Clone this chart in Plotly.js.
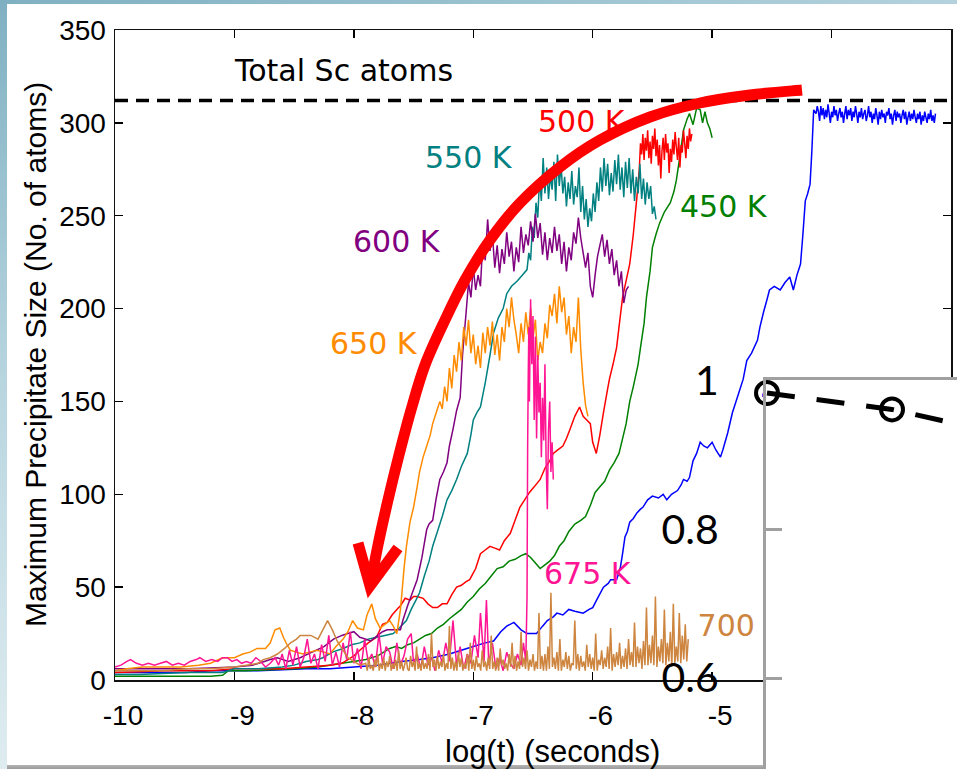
<!DOCTYPE html>
<html><head><meta charset="utf-8">
<script src="https://cdn.plot.ly/plotly-3.0.1.min.js"></script>
<style>
html,body{margin:0;padding:0;width:957px;height:769px;overflow:hidden;}
body{background:linear-gradient(160deg,#7fb0c2 0%,#b9d6e0 35%,#e0edf1 70%,#eef5f7 100%);position:relative;}
#panel{position:absolute;left:7px;top:4px;width:950px;height:761px;background:#fff;}
#shadow{position:absolute;left:7px;top:765px;width:760px;height:4px;background:linear-gradient(#b4b4b4,#9a9a9a);}
#chart{position:absolute;left:0;top:0;width:957px;height:769px;}
</style></head><body>
<div id="panel"></div><div id="shadow"></div><div id="chart"></div>
<script>
// ---------------- data (log10 time in s, max precipitate size in atoms) ----------------
const totalSc = 312;

const t400 = [-10,-9.8,-9.6,-9.4,-9.2,-9.0,-8.8,-8.6,-8.4,-8.2,-8.0,-7.8,-7.6,
 -7.45,-7.34,-7.2,-7.1,-7.0,-6.9,-6.83,-6.77,-6.72,-6.66,
 -6.6,-6.55,-6.47,-6.42,-6.38,-6.33,-6.3,-6.25,-6.2,-6.15,
 -6.08,-6.03,-6.0,-5.96,-5.91,-5.87,-5.85,-5.8,-5.77,-5.75,
 -5.73,-5.71,-5.69,-5.66,-5.63,-5.6,-5.58,-5.54,-5.5,-5.45,
 -5.41,-5.38,-5.34,-5.29,-5.26,-5.24,-5.21,-5.19,-5.16,-5.13,
 -5.1,-5.07,-5.04,-5.0,-4.97,-4.93,-4.91,-4.87,-4.83,-4.79,
 -4.74,-4.71,-4.67,-4.62,-4.6,-4.57,-4.54,-4.52,-4.48,-4.43,
 -4.39,-4.35,-4.32,-4.29,-4.26,-4.24,-4.22,-4.2,-4.18,-4.165,
 -4.15,-4.13,-4.12,
 -4.11,-4.1,-4.09,-4.08,-4.07,-4.06,-4.05,-4.04,-4.03,-4.02,
 -4.01,-4.0,-3.99,-3.98,-3.97,-3.96,-3.95,-3.94,-3.93,-3.92,
 -3.91,-3.9,-3.89,-3.88,-3.87,-3.86,-3.85,-3.84,-3.83,-3.82,
 -3.81,-3.8,-3.79,-3.78,-3.77,-3.76,-3.75,-3.74,-3.73,-3.72,
 -3.71,-3.7,-3.69,-3.68,-3.67,-3.66,-3.65,-3.64,-3.63,-3.62,
 -3.61,-3.6,-3.59,-3.58,-3.57,-3.56,-3.55,-3.54,-3.53,-3.52,
 -3.51,-3.5,-3.49,-3.48,-3.47,-3.46,-3.45,-3.44,-3.43,-3.42,
 -3.41,-3.4,-3.39,-3.38,-3.37,-3.36,-3.35,-3.34,-3.33,-3.32,
 -3.31,-3.3,-3.29,-3.28,-3.27,-3.26,-3.25,-3.24,-3.23,-3.22,
 -3.21,-3.2,-3.19,-3.18,-3.17,-3.16,-3.15,-3.14,-3.13];
const s400 = [4,4,4,4,5,5,5,5.5,6,6,7,8,10,
 11,12,14,16,18,20,21,26,29,31,
 27,25,25,29,32,34,36,35,38,37,
 36,38,39,44,50,52,54,54,60,68,
 77,80,85,87,90,92,93,97,99,98,
 100,97,100,102,105,108,107,109,118,122,
 128,126,125,128,124,120,124,133,144,152,
 162,172,176,183,190,198,205,210,212,210,
 214,217,210,218,224,240,258,262,267,285,
 307,305,309,
 306,301,309,304,308,302,307,303,310,305,
 300,306,303,309,304,307,301,305,308,303,
 306,300,305,309,302,307,304,308,301,306,
 303,309,305,300,306,303,308,302,305,307,
 301,304,309,303,306,300,305,302,308,304,
 299,306,302,307,303,305,300,306,304,308,
 302,305,299,304,307,301,306,303,305,300,
 304,307,302,306,299,303,306,301,305,302,
 307,303,300,305,302,306,299,304,301,306,
 303,300,305,302,307,301,304,300,305];

const t450 = [-10,-9.8,-9.6,-9.4,-9.2,-9.1,-9.05,-8.9,-8.7,-8.5,
 -8.3,-8.1,-8.0,-7.9,-7.8,-7.7,-7.65,-7.6,-7.55,-7.5,
 -7.45,-7.4,-7.35,-7.3,-7.25,-7.2,-7.14,-7.1,-7.05,-7.0,
 -6.95,-6.9,-6.85,-6.8,-6.75,-6.7,-6.65,-6.6,-6.56,-6.52,
 -6.48,-6.44,-6.4,-6.36,-6.32,-6.28,-6.24,-6.2,-6.15,-6.1,
 -6.06,-6.02,-5.98,-5.94,-5.9,-5.86,-5.82,-5.78,-5.75,-5.72,
 -5.69,-5.66,-5.62,-5.6,-5.57,-5.55,-5.52,-5.5,-5.47,-5.44,
 -5.4,-5.35,-5.32,-5.3,-5.27,-5.24,-5.21,-5.19,-5.16,-5.13,
 -5.1,-5.08,-5.06,-5.04,-5.02,-5.0];
const s450 = [2,2,2,2,2,2.5,5,5,5.5,6,
 7,9,10,11,13,17,18,17,19,20,
 22,24,25,28,30,33,36,38,42,45,
 49,52,56,60,61,64,65,67,68,66,
 63,60,62,64,67,72,75,80,84,86,
 88,94,101,104,107,113,117,122,130,138,
 150,158,170,179,192,206,220,233,240,246,
 252,257,263,269,282,296,302,305,299,308,
 307,300,306,300,297,292];

const t500 = [-10,-9.8,-9.6,-9.4,-9.2,-9.0,-8.8,-8.6,-8.4,-8.2,
 -8.1,-8.0,-7.95,-7.88,-7.81,-7.76,-7.72,-7.68,-7.64,-7.61,
 -7.57,-7.53,-7.5,-7.47,-7.42,-7.38,-7.34,-7.3,-7.26,-7.22,
 -7.18,-7.14,-7.1,-7.06,-7.03,-6.98,-6.94,-6.9,-6.86,-6.82,
 -6.78,-6.74,-6.69,-6.65,-6.61,-6.57,-6.53,-6.49,-6.44,-6.4,
 -6.36,-6.33,-6.29,-6.25,-6.22,-6.19,-6.15,-6.11,-6.08,-6.05,
 -6.02,-6.0,-5.97,-5.94,-5.91,-5.88,-5.86,-5.83,-5.8,-5.78,
 -5.75,-5.72,-5.69,-5.66,-5.63,
 -5.61,-5.6,-5.59,-5.58,-5.57,-5.56,-5.55,-5.54,-5.53,-5.52,
 -5.51,-5.5,-5.49,-5.48,-5.47,-5.46,-5.45,-5.44,-5.43,-5.42,
 -5.41,-5.4,-5.39,-5.38,-5.37,-5.36,-5.35,-5.34,-5.33,-5.32,
 -5.31,-5.3,-5.29,-5.28,-5.27,-5.26,-5.25,-5.24,-5.23,-5.22,
 -5.21,-5.2,-5.19,-5.18,-5.17];
const s500 = [4,4.5,5,5,5,6,6,6,7,8,
 9,13,16,20,23,30,31,35,38,40,
 44,43,45,45,44,41,39,39,41,41,
 46,50,51,53,54,60,68,70,72,71,
 70,75,79,86,93,97,101,104,108,114,
 118,122,124,126,130,135,142,147,142,140,
 138,128,122,132,144,155,162,170,179,190,
 206,215,224,240,260,
 275,289,283,294,280,292,285,296,281,290,
 278,293,286,297,282,291,277,288,270,285,
 292,280,294,284,289,273,286,279,291,283,
 295,287,280,292,276,288,284,296,289,281,
 293,286,297,290,294];

const t550 = [-10,-9.8,-9.6,-9.4,-9.2,-9.1,-9.0,-8.8,-8.6,-8.5,
 -8.4,-8.3,-8.26,-8.18,-8.09,-8.02,-7.95,-7.88,-7.81,-7.74,
 -7.67,-7.62,-7.56,-7.52,-7.48,-7.45,-7.41,-7.37,-7.34,-7.3,
 -7.26,-7.22,-7.18,-7.14,-7.1,-7.05,-7.02,-7.0,-6.97,-6.94,
 -6.9,-6.86,-6.83,-6.79,-6.75,-6.72,-6.68,-6.63,-6.59,
 -6.55,-6.535,-6.52,-6.505,-6.49,-6.475,-6.46,-6.445,-6.43,-6.415,
 -6.4,-6.385,-6.37,-6.355,-6.34,-6.325,-6.31,-6.295,-6.28,-6.265,
 -6.25,-6.235,-6.22,-6.205,-6.19,-6.175,-6.16,-6.145,-6.13,-6.115,
 -6.1,-6.085,-6.07,-6.055,-6.04,-6.025,-6.01,-5.995,-5.98,-5.965,
 -5.95,-5.935,-5.92,-5.905,-5.89,-5.875,-5.86,-5.845,-5.83,-5.815,
 -5.8,-5.785,-5.77,-5.755,-5.74,-5.725,-5.71,-5.695,-5.68,-5.665,
 -5.65,-5.635,-5.62,-5.605,-5.59,-5.575,-5.56,-5.545,-5.53,-5.515,
 -5.5,-5.485,-5.47];
const s550 = [3,3,3.5,4,4,4,6,6,7,8,
 10,11,12,15,17,19,20,22,23,24,
 25,28,32,38,43,47,56,64,72,80,
 88,97,102,108,115,122,132,140,144,147,
 160,175,187,195,200,208,212,215,218,
 221,230,226,244,238,257,249,270,258,281,
 262,276,259,272,264,279,258,283,266,277,
 262,271,255,268,259,274,256,266,260,276,
 252,266,248,259,244,254,247,262,252,268,
 258,276,263,281,266,278,261,273,263,280,
 267,283,264,276,260,279,265,281,262,275,
 258,271,262,278,259,270,256,268,259,266,
 251,255,248];

const t600 = [-10,-9.8,-9.6,-9.4,-9.2,-9.0,-8.85,-8.75,-8.7,-8.64,
 -8.55,-8.45,-8.35,-8.25,-8.17,-8.1,-8.05,-8.0,-7.95,-7.9,
 -7.86,-7.8,-7.76,-7.72,-7.66,-7.61,-7.59,-7.55,-7.51,-7.47,
 -7.43,-7.39,-7.37,-7.34,-7.31,-7.28,-7.25,-7.22,-7.2,-7.17,
 -7.14,-7.11,-7.09,
 -7.06,-7.04,-7.02,-7.0,-6.98,-6.96,-6.94,-6.92,-6.9,-6.88,
 -6.86,-6.84,-6.82,-6.8,-6.78,-6.76,-6.74,-6.72,-6.7,-6.68,
 -6.66,-6.64,-6.62,-6.6,-6.58,-6.56,-6.54,-6.52,-6.5,-6.48,
 -6.46,-6.44,-6.42,-6.4,-6.38,-6.36,-6.34,-6.32,-6.3,-6.28,
 -6.26,-6.24,-6.22,-6.2,-6.18,-6.16,-6.14,-6.12,-6.1,-6.08,
 -6.06,-6.04,-6.02,-6.0,-5.98,-5.96,-5.94,-5.92,-5.9,-5.88,
 -5.86,-5.84,-5.82,-5.8,-5.78,-5.76,-5.74,-5.72,-5.7];
const s600 = [6,6,6,6,6.5,7,8,10,11,12,
 10,12,15,18,22,24,25,26,23,22,
 21,24,26,27,27,27,32,40,47,54,
 66,81,84,86,98,108,112,117,126,135,
 145,152,175,
 198,214,206,222,210,218,212,236,226,248,
 231,240,222,234,219,232,224,241,228,236,
 220,233,225,244,230,240,234,247,236,251,
 238,246,229,241,226,238,230,244,231,240,
 224,236,220,233,226,241,235,249,238,230,
 222,230,212,206,218,228,234,240,228,237,
 224,232,218,226,212,220,203,210,212];

const t650 = [-10,-9.9,-9.77,-9.6,-9.45,-9.3,-9.2,-9.1,-9.0,-8.93,
 -8.87,-8.81,-8.74,-8.7,-8.66,-8.62,-8.59,-8.56,-8.53,-8.48,
 -8.43,-8.37,-8.31,-8.25,-8.2,-8.15,-8.09,-8.05,-8.01,-7.97,
 -7.92,-7.89,-7.85,-7.82,-7.78,-7.74,-7.7,-7.67,-7.64,-7.61,
 -7.6,-7.58,-7.56,-7.53,-7.5,-7.47,-7.45,-7.42,-7.39,-7.36,
 -7.34,-7.31,
 -7.28,-7.26,-7.24,-7.22,-7.2,-7.18,-7.16,-7.14,-7.12,
 -7.1,-7.08,-7.06,-7.04,-7.02,-7.0,-6.98,-6.96,-6.94,-6.92,
 -6.9,-6.88,-6.86,-6.84,-6.82,-6.8,-6.78,-6.76,-6.74,-6.72,
 -6.7,-6.68,-6.66,-6.64,-6.62,-6.6,-6.58,-6.56,-6.54,-6.52,
 -6.5,-6.48,-6.46,-6.44,-6.42,-6.4,-6.38,-6.36,-6.34,-6.32,
 -6.3,-6.28,-6.26,-6.24,-6.22,-6.2,-6.18,-6.16,-6.14,-6.12,
 -6.1,-6.08,-6.06,-6.04];
const s650 = [5,6,7,7,7,8,9,12,12,14,
 15,17,17,20,27,28,23,19,16,15,
 14,15,16,15,14,18,22,26,32,28,
 27,35,41,33,28,30,32,29,25,38,
 45,60,72,85,93,104,112,120,126,132,
 138,144,
 150,146,158,150,168,157,175,166,182,
 172,190,180,194,176,186,170,180,168,187,
 176,190,180,193,175,186,172,190,182,200,
 190,206,194,186,176,192,182,198,186,200,
 184,194,172,182,176,192,184,202,196,208,
 192,212,198,206,186,196,176,190,182,206,
 178,160,148,142];

const t675 = [-10,-9.95,-9.9,-9.87,-9.82,-9.77,-9.72,-9.67,-9.62,-9.57,
 -9.52,-9.47,-9.42,-9.37,-9.32,-9.29,-9.24,-9.19,-9.14,-9.1,
 -9.06,-9.02,-8.98,-8.94,-8.9,-8.86,-8.82,-8.78,-8.74,-8.7,
 -8.66,-8.63,-8.6,-8.57,-8.54,-8.51,-8.48,-8.45,-8.42,-8.39,
 -8.36,-8.33,-8.3,-8.27,-8.24,-8.21,-8.18,-8.15,-8.12,-8.09,
 -8.06,-8.03,-8.0,-7.97,-7.94,-7.91,-7.88,-7.85,-7.82,-7.79,
 -7.76,-7.73,-7.7,-7.67,-7.64,-7.61,-7.58,-7.55,-7.52,-7.5,
 -7.47,-7.44,-7.41,-7.38,-7.35,-7.32,-7.29,-7.26,-7.23,-7.2,
 -7.17,-7.14,-7.11,-7.08,-7.05,-7.02,-6.99,-6.96,-6.94,-6.91,
 -6.89,-6.87,-6.84,-6.81,-6.78,-6.75,-6.72,-6.69,-6.66,-6.63,
 -6.6,-6.58,-6.56,-6.55,-6.545,-6.54,-6.535,-6.53,-6.52,-6.51,
 -6.5,-6.49,-6.48,-6.47,-6.46,-6.45,-6.44,-6.43,-6.42,-6.41,
 -6.4,-6.39,-6.38,-6.37,-6.36,-6.35,-6.34,-6.33];
const s675 = [7,8,10,11,9,8,9,8,9,10,
 8,9,8,10,11,12,10,11,10,12,
 12,10,11,9,10,9,12,10,7,9,
 12,8,14,6,16,8,18,7,12,22,
 9,14,6,19,10,24,8,15,7,20,
 11,26,9,17,6,22,10,14,7,25,
 9,18,15,6,20,8,13,22,25,9,
 14,6,18,8,12,5,16,9,20,10,
 32,8,18,6,14,9,24,12,36,10,
 43,8,20,6,12,5,15,9,6,14,
 8,20,10,45,125,162,190,150,205,170,
 196,140,185,130,175,144,160,120,152,129,
 170,117,92,135,150,112,128,108];

const t700 = [-10,-9.8,-9.6,-9.4,-9.2,-9.0,-8.9,-8.8,-8.76,-8.7,
 -8.64,-8.58,-8.53,-8.48,-8.45,-8.4,-8.36,-8.3,-8.26,-8.22,
 -8.18,-8.14,-8.09,-8.05,-8.0,-7.95,
 -7.9,-7.8875,-7.875,-7.8625,-7.85,-7.8375,-7.825,-7.8125,-7.8,-7.7875,
 -7.775,-7.7625,-7.75,-7.7375,-7.725,-7.7125,-7.7,-7.6875,-7.675,-7.6625,
 -7.65,-7.6375,-7.625,-7.6125,-7.6,-7.5875,-7.575,-7.5625,-7.55,-7.5375,
 -7.525,-7.5125,-7.5,-7.4875,-7.475,-7.4625,-7.45,-7.4375,-7.425,-7.4125,
 -7.4,-7.3875,-7.375,-7.3625,-7.35,-7.3375,-7.325,-7.3125,-7.3,-7.2875,
 -7.275,-7.2625,-7.25,-7.2375,-7.225,-7.2125,-7.2,-7.1875,-7.175,-7.1625,
 -7.15,-7.1375,-7.125,-7.1125,-7.1,-7.0875,-7.075,-7.0625,-7.05,-7.0375,
 -7.025,-7.0125,-7.0,-6.9875,-6.975,-6.9625,-6.95,-6.9375,-6.925,-6.9125,
 -6.9,-6.8875,-6.875,-6.8625,-6.85,-6.8375,-6.825,-6.8125,-6.8,-6.7875,
 -6.775,-6.7625,-6.75,-6.7375,-6.725,-6.7125,-6.7,-6.6875,-6.675,-6.6625,
 -6.65,-6.6375,-6.625,-6.6125,-6.6,-6.5875,-6.575,-6.5625,-6.55,-6.5375,
 -6.525,-6.5125,-6.5,-6.4875,-6.475,-6.4625,-6.45,-6.4375,-6.425,-6.4125,
 -6.4,-6.3875,-6.375,-6.3625,-6.35,-6.3375,-6.325,-6.3125,-6.3,-6.2875,
 -6.275,-6.2625,-6.25,-6.2375,-6.225,-6.2125,-6.2,-6.1875,-6.175,-6.1625,
 -6.15,-6.1375,-6.125,-6.1125,-6.1,-6.0875,-6.075,-6.0625,-6.05,-6.0375,
 -6.025,-6.0125,-6.0,-5.9875,-5.975,-5.9625,-5.95,-5.9375,-5.925,-5.9125,
 -5.9,-5.8875,-5.875,-5.8625,-5.85,-5.8375,-5.825,-5.8125,-5.8,-5.7875,
 -5.775,-5.7625,-5.75,-5.7375,-5.725,-5.7125,-5.7,-5.6875,-5.675,-5.6625,
 -5.65,-5.6375,-5.625,-5.6125,-5.6,-5.5875,-5.575,-5.5625,-5.55,-5.5375,
 -5.525,-5.5125,-5.5,-5.4875,-5.475,-5.4625,-5.45,-5.4375,-5.425,-5.4125,
 -5.4,-5.3875,-5.375,-5.3625,-5.35,-5.3375,-5.325,-5.3125,-5.3,-5.2875,
 -5.275,-5.2625,-5.25,-5.2375,-5.225,-5.2125,-5.2];
const s700 = [5,5,5,6,6,7,8,9,11,12,
 14,17,20,22,24,24,24,22,27,32,
 27,21,16,12,10,8,
 9,5,12,6,8,5,11,7,14,5,
 9,6,12,5,10,7,13,5,9,6,
 11,5,16,6,10,5,8,12,6,5,
 13,7,10,5,18,6,9,5,12,6,
 9,6,14,5,25,7,11,5,13,6,
 10,7,14,5,9,6,29,6,12,5,
 10,5,15,7,12,5,9,6,14,5,
 20,6,11,5,13,7,9,5,16,7,
 10,5,12,6,24,6,10,5,12,5,
 17,8,11,6,9,5,14,7,20,6,
 13,5,10,6,26,7,12,6,16,5,
 11,7,14,5,10,6,36,6,13,5,
 14,5,18,6,47,7,12,6,15,5,
 22,5,11,7,15,6,13,5,9,8,
 32,6,14,5,13,7,10,5,19,7,
 14,6,12,5,25,5,11,8,16,6,
 12,7,18,6,28,5,14,7,15,8,
 20,6,13,7,17,6,22,8,15,7,
 31,7,18,9,17,6,21,8,39,8,
 19,9,24,8,45,7,18,10,22,9,
 38,8,20,10,26,7,41,9,18,10,
 36,9,24,11,30,10,22];

// inset: normalised values (open circles, dashed)
const insetX = [0, 1, 1.56];
const insetY = [0.983, 0.961, 0.940];

// ---------------- build ----------------
const W = 957, H = 769;
const LBL = 'DejaVu Sans';
function line(x, y, color){
  return {type:'scatter', mode:'lines', x:x, y:y, xaxis:'x', yaxis:'y',
          line:{color:color, width:1.5, simplify:false}, hoverinfo:'skip'};
}
const traces = [
  line(t400, s400, '#0000ff'),
  line(t450, s450, '#008000'),
  line(t500, s500, '#ff0000'),
  line(t550, s550, '#008080'),
  line(t600, s600, '#800080'),
  line(t650, s650, '#ff8c00'),
  line(t675, s675, '#ff1493'),
  line(t700, s700, '#cd853f'),
  {type:'scatter', mode:'text', x:[-4.76], y:[27.5], text:['700 K'], xaxis:'x', yaxis:'y',
   textfont:{family:LBL, size:30, color:'#cd853f'}, hoverinfo:'skip'},
  {type:'scatter', mode:'text', x:[-4.23], y:[154], text:['400 K'], xaxis:'x', yaxis:'y',
   textfont:{family:LBL, size:30, color:'#0000ff'}, hoverinfo:'skip'},
  {type:'scatter', mode:'lines+markers', x:insetX, y:insetY, xaxis:'x2', yaxis:'y2', cliponaxis:false,
   line:{color:'#000', width:5, dash:'28px,22px'},
   marker:{symbol:'circle-open', size:22, color:'#000', line:{width:4, color:'#000'}}, hoverinfo:'skip'}
];

// red curved arrow (slide decoration) in page pixels -> paper coords
const arrowPx = [[802,90],[750,95],[700,103],[650,117],[600,140],[560,167],[520,203],[490,240],
  [465,280],[445,320],[425,365],[411,410],[399,455],[388,500],[378,545],[371,582]];
function P(p){ return (p[0]/W).toFixed(5) + ',' + (1 - p[1]/H).toFixed(5); }
let path = 'M' + P(arrowPx[0]);
for (let i = 0; i < arrowPx.length - 1; i++) {
  const p0 = arrowPx[Math.max(i-1,0)], p1 = arrowPx[i], p2 = arrowPx[i+1], p3 = arrowPx[Math.min(i+2, arrowPx.length-1)];
  const c1 = [p1[0] + (p2[0]-p0[0])/6, p1[1] + (p2[1]-p0[1])/6];
  const c2 = [p2[0] - (p3[0]-p1[0])/6, p2[1] - (p3[1]-p1[1])/6];
  path += ' C' + P(c1) + ' ' + P(c2) + ' ' + P(p2);
}
const headPath = 'M' + P([358,543]) + ' L' + P([370,586]) + ' L' + P([398,548]);

const tickFont = {family:'Liberation Sans, Arial, sans-serif', size:28, color:'#000'};
function ann(text, x, y, color){
  return {text:text, x:x, y:y, xref:'x', yref:'y', showarrow:false,
          font:{family:LBL, size:30, color:color}};
}

const layout = {
  width:W, height:H, margin:{l:0,r:0,t:0,b:0},
  paper_bgcolor:'rgba(0,0,0,0)', plot_bgcolor:'#ffffff', showlegend:false,
  xaxis:{domain:[115/W, 951/W], range:[-10,-3], anchor:'y',
    tickvals:[-10,-9,-8,-7,-6,-5,-4,-3], ticktext:['-10','-9','-8','-7','-6','-5','',''],
    ticks:'inside', ticklen:8, tickwidth:1.3, tickcolor:'#000',
    showline:true, linecolor:'#111', linewidth:1.5, mirror:'ticks',
    showgrid:false, zeroline:false, tickfont:tickFont, ticklabelshift:8, ticklabelstandoff:10},
  yaxis:{domain:[1-680/H, 1-30/H], range:[0,350], anchor:'x',
    tickvals:[0,50,100,150,200,250,300,350],
    ticks:'inside', ticklen:8, tickwidth:1.3, tickcolor:'#000',
    showline:true, linecolor:'#111', linewidth:1.5, mirror:'ticks',
    showgrid:false, zeroline:false, tickfont:tickFont, ticklabelstandoff:2},
  xaxis2:{domain:[766/W, 1], range:[-0.008, 1.52], anchor:'y2', side:'top',
    showline:true, linecolor:'#a0a0a0', linewidth:3, ticks:'', showticklabels:false,
    showgrid:false, zeroline:false},
  yaxis2:{domain:[0, 1-380/H], range:[0.4779, 1.0005], anchor:'x2',
    showline:true, linecolor:'#a0a0a0', linewidth:3,
    ticks:'inside', ticklen:16, tickwidth:3, tickcolor:'#a0a0a0',
    tickvals:[0.6,0.8,1.0], ticktext:['0.6','0.8','1'],
    tickfont:{family:'Lato, Liberation Sans, sans-serif', size:41, color:'#000'},
    ticklabelstandoff:36, showgrid:false, zeroline:false},
  shapes:[
    {type:'line', xref:'x', yref:'y', x0:-10, x1:-3, y0:totalSc, y1:totalSc,
     line:{color:'#000', width:3.5, dash:'13px,8px'}, layer:'above'},
    {type:'path', xref:'paper', yref:'paper', path:path, line:{color:'#ff0000', width:11}, layer:'above'},
    {type:'path', xref:'paper', yref:'paper', path:headPath, line:{color:'#ff0000', width:11}, layer:'above'}
  ],
  annotations:[
    ann('Total Sc atoms', -8.083, 328, '#000'),
    ann('500 K', -6.09, 301, '#ff0000'),
    ann('550 K', -7.036, 281.6, '#008080'),
    ann('600 K', -7.64, 235.9, '#800080'),
    ann('650 K', -7.83, 181, '#ff8c00'),
    ann('450 K', -4.9, 255, '#008000'),
    ann('675 K', -6.04, 57.6, '#ff1493'),
    {text:'Maximum Precipitate Size (No. of atoms)', xref:'paper', yref:'paper',
     x:35/W, y:1-355/H, showarrow:false, textangle:-90, xanchor:'center', yanchor:'middle',
     font:{family:'Liberation Sans, Arial, sans-serif', size:30, color:'#000'}},
    {text:'log(t) (seconds)', xref:'paper', yref:'paper',
     x:552/W, y:1-751/H, showarrow:false, xanchor:'center', yanchor:'middle',
     font:{family:'Liberation Sans, Arial, sans-serif', size:31, color:'#000'}}
  ]
};

Plotly.newPlot('chart', traces, layout, {staticPlot:true, displayModeBar:false});
</script></body></html>
